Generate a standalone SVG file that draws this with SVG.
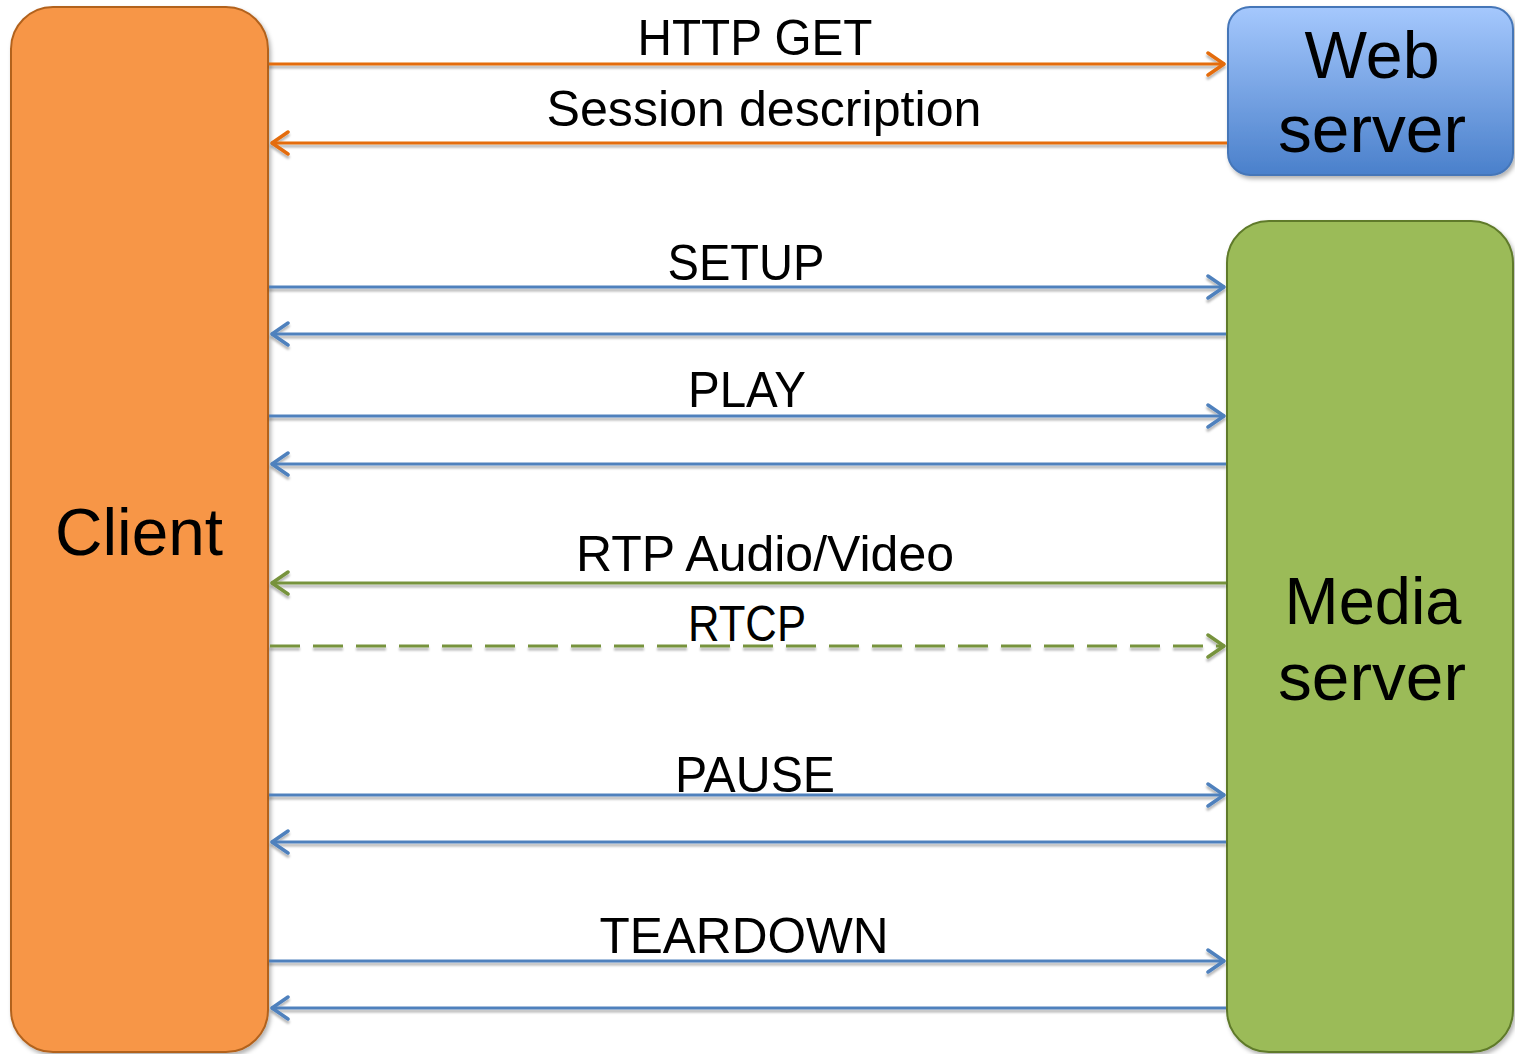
<svg xmlns="http://www.w3.org/2000/svg" width="1515" height="1054" viewBox="0 0 1515 1054">
<defs>
<linearGradient id="webGrad" x1="0" y1="0" x2="0" y2="1">
<stop offset="0" stop-color="#a5c8fd"/>
<stop offset="1" stop-color="#4a80cb"/>
</linearGradient>
<filter id="shadow" x="-10%" y="-10%" width="130%" height="130%">
<feDropShadow dx="2" dy="3" stdDeviation="2" flood-color="#000" flood-opacity="0.3"/>
</filter>
<filter id="lshadow" filterUnits="userSpaceOnUse" x="0" y="0" width="1515" height="1054">
<feDropShadow dx="0" dy="3" stdDeviation="1.2" flood-color="#000" flood-opacity="0.28"/>
</filter>
<marker id="aO" viewBox="0 0 22 26" refX="20" refY="13" markerWidth="22" markerHeight="26" markerUnits="userSpaceOnUse" orient="auto-start-reverse">
<path d="M3,2 L19,13 L3,24" fill="none" stroke="#e46c0a" stroke-width="3.5" stroke-linecap="round" stroke-linejoin="round"/>
</marker>
<marker id="aB" viewBox="0 0 22 26" refX="20" refY="13" markerWidth="22" markerHeight="26" markerUnits="userSpaceOnUse" orient="auto-start-reverse">
<path d="M3,2 L19,13 L3,24" fill="none" stroke="#4f81bd" stroke-width="3.5" stroke-linecap="round" stroke-linejoin="round"/>
</marker>
<marker id="aG" viewBox="0 0 22 26" refX="20" refY="13" markerWidth="22" markerHeight="26" markerUnits="userSpaceOnUse" orient="auto-start-reverse">
<path d="M3,2 L19,13 L3,24" fill="none" stroke="#77933c" stroke-width="3.5" stroke-linecap="round" stroke-linejoin="round"/>
</marker>
</defs>
<style>
text{font-family:"Liberation Sans","DejaVu Sans",sans-serif;fill:#000;text-anchor:middle}
.lbl{font-size:50px}
.node{font-size:66px}
.o{stroke:#e46c0a;stroke-width:3;fill:none;filter:url(#lshadow)}
.b{stroke:#4f81bd;stroke-width:3;fill:none;filter:url(#lshadow)}
.g{stroke:#77933c;stroke-width:3;fill:none;filter:url(#lshadow)}
</style>

<g id="client">
<rect x="11" y="7" width="257" height="1045" rx="42" ry="42" fill="#f79646" stroke="#b2621e" stroke-width="2" filter="url(#shadow)"/>
<text class="node" x="139" y="555" textLength="168" lengthAdjust="spacingAndGlyphs">Client</text>
</g>

<g id="web-server">
<rect x="1228" y="7" width="285" height="168" rx="22" ry="22" fill="url(#webGrad)" stroke="#4576b8" stroke-width="2" filter="url(#shadow)"/>
<text class="node" x="1372" y="78" textLength="135" lengthAdjust="spacingAndGlyphs">Web</text>
<text class="node" x="1372" y="152" textLength="188" lengthAdjust="spacingAndGlyphs">server</text>
</g>

<g id="media-server">
<rect x="1227" y="221" width="286" height="831" rx="42" ry="42" fill="#9bbb59" stroke="#5f7a2a" stroke-width="2" filter="url(#shadow)"/>
<text class="node" x="1373" y="624" textLength="177" lengthAdjust="spacingAndGlyphs">Media</text>
<text class="node" x="1372" y="700" textLength="188" lengthAdjust="spacingAndGlyphs">server</text>
</g>

<g id="connectors">
<line class="o" x1="269" y1="64" x2="1225" y2="64" marker-end="url(#aO)"/>
<line class="o" x1="271" y1="143" x2="1227" y2="143" marker-start="url(#aO)"/>
<line class="b" x1="269" y1="287" x2="1225" y2="287" marker-end="url(#aB)"/>
<line class="b" x1="271" y1="334" x2="1226" y2="334" marker-start="url(#aB)"/>
<line class="b" x1="269" y1="416" x2="1225" y2="416" marker-end="url(#aB)"/>
<line class="b" x1="271" y1="464" x2="1226" y2="464" marker-start="url(#aB)"/>
<line class="g" x1="271" y1="583" x2="1226" y2="583" marker-start="url(#aG)"/>
<line class="g" x1="270" y1="646" x2="1225" y2="646" stroke-dasharray="30 13" marker-end="url(#aG)"/>
<line class="b" x1="269" y1="795" x2="1225" y2="795" marker-end="url(#aB)"/>
<line class="b" x1="271" y1="842" x2="1226" y2="842" marker-start="url(#aB)"/>
<line class="b" x1="269" y1="961" x2="1225" y2="961" marker-end="url(#aB)"/>
<line class="b" x1="271" y1="1008" x2="1226" y2="1008" marker-start="url(#aB)"/>
</g>

<g id="labels">
<text class="lbl" x="755" y="55" textLength="235" lengthAdjust="spacingAndGlyphs">HTTP GET</text>
<text class="lbl" x="764" y="126" textLength="435" lengthAdjust="spacingAndGlyphs">Session description</text>
<text class="lbl" x="746" y="280" textLength="157" lengthAdjust="spacingAndGlyphs">SETUP</text>
<text class="lbl" x="747" y="407" textLength="118" lengthAdjust="spacingAndGlyphs">PLAY</text>
<text class="lbl" x="765" y="571" textLength="378" lengthAdjust="spacingAndGlyphs">RTP Audio/Video</text>
<text class="lbl" x="747" y="641" textLength="118" lengthAdjust="spacingAndGlyphs">RTCP</text>
<text class="lbl" x="755" y="792" textLength="160" lengthAdjust="spacingAndGlyphs">PAUSE</text>
<text class="lbl" x="744" y="953" textLength="289" lengthAdjust="spacingAndGlyphs">TEARDOWN</text>
</g>
</svg>
